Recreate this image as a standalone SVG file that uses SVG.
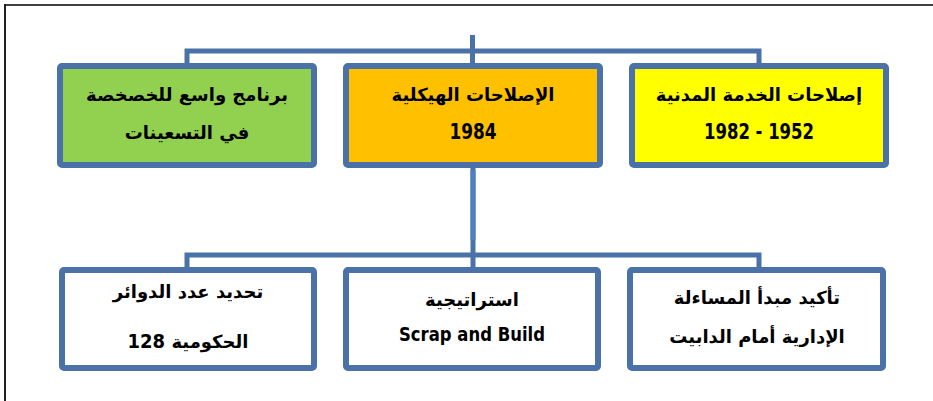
<svg xmlns="http://www.w3.org/2000/svg" width="933" height="401" viewBox="0 0 933 401">
  <style>
    .box { stroke: #4a72a8; stroke-width: 6; }
    .link { stroke: #4a72a8; stroke-width: 5; fill: none; stroke-linecap: butt; stroke-linejoin: miter; }
    .ar { font-family: "DejaVu Sans", "Noto Sans", sans-serif; font-weight: bold; font-size: 18px; fill: #000; text-anchor: middle; direction: rtl; }
    .num { font-family: "DejaVu Sans Condensed", "Open Sans", "Liberation Sans", sans-serif; font-weight: bold; font-size: 21px; fill: #000; text-anchor: middle; }
  </style>

  <!-- page frame -->
  <rect x="0" y="0" width="933" height="401" fill="#ffffff"/>
  <line x1="4" y1="5" x2="933" y2="5" stroke="#404040" stroke-width="2"/>
  <line x1="5" y1="4" x2="5" y2="401" stroke="#202020" stroke-width="2"/>

  <!-- connectors -->
  <g id="connectors">
    <path class="link" d="M472.5 35 V63"/>
    <path class="link" d="M187 66 V51 H759 V66"/>
    <path class="link" d="M473 168 V269"/>
    <path class="link" d="M473 170 V240" style="stroke:#4f81bd"/>
    <path class="link" d="M187 269 V255 H759 V269"/>
  </g>

  <!-- top row -->
  <g id="node-privatization">
    <rect class="box" x="60" y="66" width="254" height="99" rx="2" fill="#92d050"/>
    <text class="ar" x="187" y="101">برنامج واسع للخصخصة</text>
    <text class="ar" x="187" y="139">في التسعينات</text>
  </g>
  <g id="node-structural">
    <rect class="box" x="346" y="66" width="254" height="99" rx="2" fill="#ffc000"/>
    <text class="ar" x="473" y="101">الإصلاحات الهيكلية</text>
    <text class="num" x="473" y="139" textLength="47" lengthAdjust="spacingAndGlyphs">1984</text>
  </g>
  <g id="node-civil-service">
    <rect class="box" x="632" y="66" width="254" height="99" rx="2" fill="#ffff00"/>
    <text class="ar" x="759" y="101">إصلاحات الخدمة المدنية</text>
    <text class="num" x="759" y="139" textLength="110" lengthAdjust="spacingAndGlyphs">1982 - 1952</text>
  </g>

  <!-- bottom row -->
  <g id="node-departments">
    <rect class="box" x="62" y="270" width="252" height="98" rx="2" fill="#ffffff"/>
    <text class="ar" x="188" y="298">تحديد عدد الدوائر</text>
    <text class="ar" x="188" y="348">الحكومية <tspan style="font-family:'DejaVu Sans Condensed','Open Sans',sans-serif;font-size:20px">128</tspan></text>
  </g>
  <g id="node-scrap-build">
    <rect class="box" x="346" y="270" width="252" height="98" rx="2" fill="#ffffff"/>
    <text class="ar" x="472" y="306">استراتيجية</text>
    <text class="num" x="472" y="341" style="font-size:19px" textLength="146" lengthAdjust="spacingAndGlyphs">Scrap and Build</text>
  </g>
  <g id="node-accountability">
    <rect class="box" x="630" y="270" width="253" height="98" rx="2" fill="#ffffff"/>
    <text class="ar" x="757" y="304">تأكيد مبدأ المساءلة</text>
    <text class="ar" x="757" y="343">الإدارية أمام الدابيت</text>
  </g>
</svg>
